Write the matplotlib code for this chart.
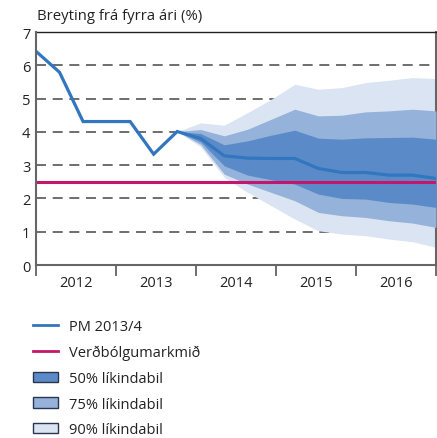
import numpy as np
import matplotlib.pyplot as plt
from matplotlib.lines import Line2D
from matplotlib.patches import Patch

plt.rcParams['font.family'] = ['Open Sans', 'DejaVu Sans']

# quarterly points, index 0..17
pm = [6.42, 5.79, 4.31, 4.31, 4.31, 3.33, 4.01, 3.80, 3.28, 3.21, 3.20, 3.20,
      2.90, 2.78, 2.78, 2.70, 2.70, 2.60]
fan_start = 6
lo90 = [4.01, 3.55, 2.63, 2.18, 1.78, 1.38, 1.03, 0.93, 0.88, 0.78, 0.70, 0.53]
lo75 = [4.01, 3.62, 2.73, 2.43, 2.18, 1.93, 1.58, 1.48, 1.43, 1.33, 1.26, 1.13]
lo50 = [4.01, 3.70, 2.98, 2.70, 2.56, 2.43, 2.13, 2.00, 1.98, 1.88, 1.83, 1.73]
hi50 = [4.01, 3.95, 3.61, 3.73, 3.90, 4.05, 3.81, 3.78, 3.82, 3.83, 3.84, 3.78]
hi75 = [4.01, 4.07, 3.88, 4.08, 4.38, 4.68, 4.48, 4.50, 4.60, 4.63, 4.68, 4.63]
hi90 = [4.01, 4.27, 4.20, 4.58, 4.98, 5.43, 5.28, 5.33, 5.48, 5.55, 5.63, 5.60]
target = 2.5
years = ['2012', '2013', '2014', '2015', '2016']
y_ticks = [0, 1, 2, 3, 4, 5, 6, 7]
grid_levels = [1, 2, 3, 4, 5, 6]

c_line = '#3276c0'
c_target = '#c4166c'
c50 = '#5a8bc8'
c75 = '#94b2da'
c90 = '#dbe4f2'
txt = '#222222'

fig = plt.figure(figsize=(4.37, 4.39), dpi=100)
ax = fig.add_axes([36 / 437, 173 / 439, 400 / 437, 233 / 439])

x = np.arange(len(pm))
xf = np.arange(fan_start, fan_start + len(lo90))
n_years = len(years)
span = x[-1]

for g in grid_levels:
    ax.axhline(g, color='#555555', lw=1.2, ls=(0, (6, 4)), zorder=1)

ax.fill_between(xf, lo90, hi90, color=c90, lw=0, zorder=2)
ax.fill_between(xf, lo75, hi75, color=c75, lw=0, zorder=3)
ax.fill_between(xf, lo50, hi50, color=c50, lw=0, zorder=4)
ax.plot(x, pm, color=c_line, lw=2.3, zorder=5, solid_joinstyle='miter')
ax.axhline(target, color=c_target, lw=2.2, zorder=6)

ax.set_xlim(0, span)
ax.set_ylim(0, 7)
bounds = np.linspace(0, span, n_years + 1)
ax.set_xticks(bounds)
ax.set_xticklabels([])
ax.set_xticks((bounds[:-1] + bounds[1:]) / 2, minor=True)
ax.set_xticklabels(years, minor=True)
ax.tick_params(axis='x', which='major', direction='out', length=8, width=1.2, color='#555555')
ax.tick_params(axis='x', which='minor', length=0, pad=7, labelsize=10.5, labelcolor=txt)
ax.set_yticks(y_ticks)
ax.tick_params(axis='y', length=0, pad=4, labelsize=10.5, labelcolor=txt)

for s in ['left', 'bottom', 'right']:
    ax.spines[s].set_color('#666666')
    ax.spines[s].set_linewidth(1.5)
ax.spines['top'].set_color('#222222')
ax.spines['top'].set_linewidth(1.0)
ax.spines['left'].set_zorder(7)

fig.text(37 / 437, 1 - 17 / 439, 'Breyting frá fyrra ári (%)', fontsize=10.7,
         color=txt, va='center', ha='left')

handles = [
    Line2D([], [], color=c_line, lw=2),
    Line2D([], [], color=c_target, lw=2),
    Patch(facecolor=c50, edgecolor='#2a3550', lw=1),
    Patch(facecolor=c75, edgecolor='#2a3550', lw=1),
    Patch(facecolor=c90, edgecolor='#2a3550', lw=1),
]
labels = ['PM 2013/4', 'Verðbólgumarkmið', '50% líkindabil', '75% líkindabil', '90% líkindabil']
fig.legend(handles, labels, loc='upper left', bbox_to_anchor=(33 / 437, 1 - 320 / 439),
           frameon=False, fontsize=10.5, labelspacing=0.74, handlelength=1.7,
           handletextpad=0.75, borderaxespad=0, borderpad=0, labelcolor=txt)

fig.savefig('out.png', dpi=100)
